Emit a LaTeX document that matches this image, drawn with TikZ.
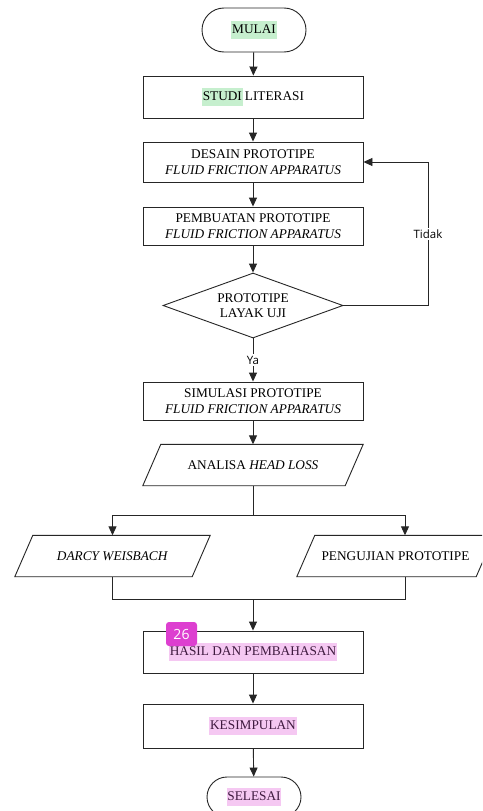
\documentclass[tikz,border=0pt]{standalone}
\usepackage{fontspec}
\setmainfont{Liberation Serif}
\newfontfamily\labelfont{Open Sans}
\usetikzlibrary{shapes.geometric,shapes.misc,arrows.meta}
\definecolor{hlgreen}{HTML}{C6EFCE}
\definecolor{hlpink}{HTML}{F5C8F2}
\definecolor{pinktext}{HTML}{3F1A3F}
\definecolor{badge}{HTML}{DD3FD0}
\newcommand{\hlbox}[2]{{\setlength{\fboxsep}{0.8pt}\colorbox{#1}{\strut #2}}}
\begin{document}
\begin{tikzpicture}[x=1pt,y=-1pt,
  every node/.style={font=\fontsize{13.3}{15.5}\selectfont},
  line/.style={line width=0.9pt, draw=black!85},
  arr/.style={line, -{Triangle[length=9pt,width=8pt]}},
  term/.style={rounded rectangle, line, minimum height=44pt, inner sep=0pt},
  proc/.style={rectangle, line, minimum width=220pt, inner sep=0pt, align=center},
  dec/.style={diamond, aspect=2.77, line, minimum width=180pt, minimum height=65pt, inner sep=0pt, align=center},
  io/.style={rectangle, inner sep=0pt, minimum height=41pt, minimum width=#1,
    append after command={\pgfextra{\draw[line]
      ([xshift=-9pt]\tikzlastnode.south west) -- ([xshift=-9pt]\tikzlastnode.south east) --
      ([xshift=9pt]\tikzlastnode.north east) -- ([xshift=9pt]\tikzlastnode.north west) -- cycle;}}},
  lbl/.style={font=\labelfont\fontsize{11.5}{13}\selectfont, fill=white, inner sep=1.5pt}
]
\clip (0,0) rectangle (482,811);
\fill[white] (0,0) rectangle (482,811);

\node[term, minimum width=104pt] (mulai) at (254,30) {\hlbox{hlgreen}{MULAI}};
\node[proc, minimum height=42pt] (studi) at (253,97) {\hlbox{hlgreen}{STUDI}\,LITERASI};
\node[proc, minimum height=40pt] (desain) at (253,162) {DESAIN PROTOTIPE\\\textit{FLUID FRICTION APPARATUS}};
\node[proc, minimum height=38pt] (pembuatan) at (253,226) {PEMBUATAN PROTOTIPE\\\textit{FLUID FRICTION APPARATUS}};
\node[dec] (cek) at (253,305.5) {PROTOTIPE\\LAYAK UJI};
\node[proc, minimum height=38pt] (simulasi) at (253,401) {SIMULASI PROTOTIPE\\\textit{FLUID FRICTION APPARATUS}};
\node[io=202pt] (analisa) at (253,465) {ANALISA \textit{HEAD LOSS}};
\node[io=177pt] (darcy) at (112.5,556) {\textit{DARCY WEISBACH}};
\node[io=179pt] (uji) at (395.5,556) {PENGUJIAN PROTOTIPE};
\node[proc, minimum height=42pt] (hasil) at (253,652) {\color{pinktext}\hlbox{hlpink}{HASIL DAN PEMBAHASAN}};
\node[proc, minimum height=44pt] (kesimpulan) at (253,726) {\color{pinktext}\hlbox{hlpink}{KESIMPULAN}};
\node[term, minimum width=94pt, minimum height=40pt] (selesai) at (254,797) {\color{pinktext}\hlbox{hlpink}{SELESAI}};

\node[fill=badge, rounded corners=3pt, minimum width=31pt, minimum height=24pt, inner sep=0pt, text=white, font=\labelfont\fontsize{14}{16}\selectfont] (badge) at (181.5,634) {26};

\coordinate (split) at (253,515);
\coordinate (ujiin) at (405,515);
\coordinate (merge) at (253,599);
\coordinate (ujiout) at (405,599);
\coordinate (tc) at (428,305.5);

\draw[arr] (mulai) -- (studi);
\draw[arr] (studi) -- (desain);
\draw[arr] (desain) -- (pembuatan);
\draw[arr] (pembuatan) -- (cek);
\draw[arr] (cek.east) -- (tc) |- node[lbl, pos=0.25] {Tidak} (desain.east);
\draw[arr] (cek.south) -- node[lbl] {Ya} (simulasi.north);
\draw[arr] (simulasi) -- (analisa);
\draw[line] (analisa.south) -- (split);
\draw[arr] (split) -| (darcy.north);
\draw[arr] (split) -- (ujiin) -- (ujiin |- uji.north);
\draw[line] (darcy.south) |- (merge);
\draw[line] (ujiin |- uji.south) -- (ujiout) -- (merge);
\draw[arr] (merge) -- (hasil);
\draw[arr] (hasil) -- (kesimpulan);
\draw[arr] (kesimpulan) -- (selesai);
\end{tikzpicture}
\end{document}
